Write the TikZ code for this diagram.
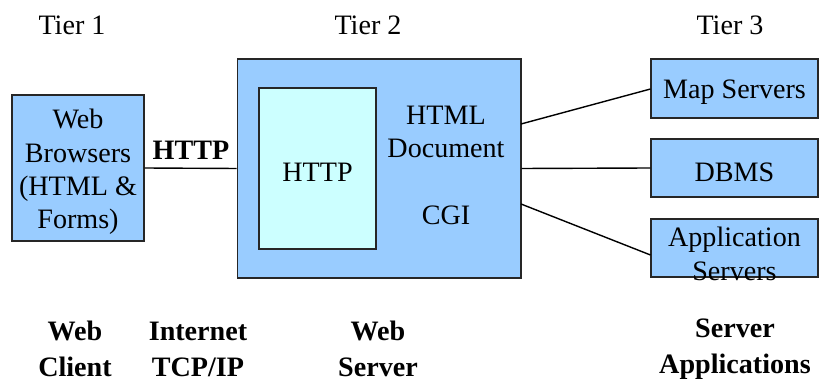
\documentclass[tikz,border=0pt]{standalone}
\usepackage{fontspec}
\setmainfont{Liberation Serif}
\usepackage{tikz}

\definecolor{boxblue}{RGB}{153,204,255}
\definecolor{boxcyan}{RGB}{204,255,255}

\tikzset{
  tierbox/.style={draw=black!85, fill=boxblue, line width=0.6pt, inner sep=0pt},
  boxtext/.style={align=center, inner sep=0pt, yshift=-0.08cm, font=\fontsize{16}{19}\selectfont},
  plain/.style={align=center, font=\fontsize{16}{19}\selectfont},
  caption/.style={align=center, font=\fontsize{16}{20.5}\selectfont\bfseries},
  link/.style={line width=0.8pt}
}

\begin{document}
\begin{tikzpicture}[x=0.02cm,y=-0.02cm]
\useasboundingbox (0,0) rectangle (819,381);
\node[plain] (t1) at (72,25) {Tier 1};
\node[plain] (t2) at (368,25) {Tier 2};
\node[plain] (t3) at (730,25) {Tier 3};
\node[tierbox, minimum width=2.64cm, minimum height=2.92cm,
  label={[boxtext]center:Web\\Browsers\\(HTML \&\\Forms)}] (browser) at (78,168) {};
\node[tierbox, minimum width=5.68cm, minimum height=4.38cm] (server) at (379,168.5) {};
\node[tierbox, fill=boxcyan, minimum width=2.34cm, minimum height=3.22cm,
  label={[boxtext]center:HTTP}] (inner) at (317.5,168.5) {};
\node[plain] (html) at (446,132) {HTML\\Document};
\node[plain] (cgi) at (446,215) {CGI};
\node[tierbox, minimum width=3.34cm, minimum height=1.18cm,
  label={[boxtext]center:Map Servers}] (map) at (734.5,88.5) {};
\node[tierbox, minimum width=3.34cm, minimum height=1.16cm,
  label={[boxtext]center:DBMS}] (dbms) at (734.5,168) {};
\node[tierbox, minimum width=3.34cm, minimum height=1.16cm,
  label={[boxtext, yshift=-0.04cm]center:Application\\Servers}] (app) at (734.5,248) {};
\node[caption] (http) at (191,150) {HTTP};
\coordinate (srvmap) at (521,124);
\coordinate (srvapp) at (521,204);
\node[caption] (client) at (75,349) {Web\\Client};
\node[caption] (net) at (198,349) {Internet\\TCP/IP};
\node[caption] (web) at (378,349) {Web\\Server};
\node[caption] (apps) at (735,349) {Server\\Applications};
\draw[link] (browser.east) -- (server.west);
\draw[link] (srvmap) -- ([yshift=-0.01cm]map.west);
\draw[link] (server.east) -- (dbms.west);
\draw[link] (srvapp) -- ([yshift=-0.14cm]app.west);
\end{tikzpicture}
\end{document}
